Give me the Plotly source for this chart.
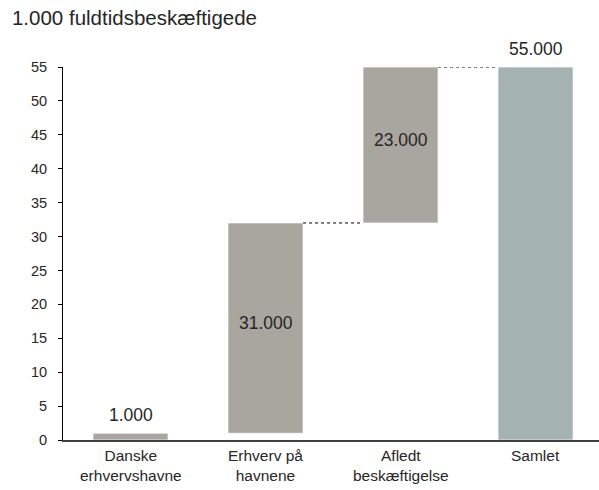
import plotly.graph_objects as go

# Employment effect of Danish commercial ports, in 1,000 full-time employees
categories = ["Danske<br>erhvervshavne", "Erhverv på<br>havnene", "Afledt<br>beskæftigelse", "Samlet"]
values = [1, 31, 23, 55]
is_total = [False, False, False, True]
y_ticks = [0, 5, 10, 15, 20, 25, 30, 35, 40, 45, 50, 55]
connect_after = [1, 2]  # steps followed by a dotted connector
label_inside = [False, True, True, False]

STEP_COLOR = "#a9a59f"
TOTAL_COLOR = "#a4b2b1"
TEXT_COLOR = "#262626"
BAR_WIDTH = 0.556
FONT = "Liberation Sans, Arial, sans-serif"

# Floating bases for the waterfall steps
bases, tops = [], []
running = 0
for v, tot in zip(values, is_total):
    if tot:
        bases.append(0)
        tops.append(v)
    else:
        bases.append(running)
        running += v
        tops.append(running)

labels = [f"{v * 1000:,}".replace(",", ".") for v in values]
x = list(range(len(categories)))

fig = go.Figure()
fig.add_trace(go.Bar(
    x=x, y=values, base=bases, width=BAR_WIDTH,
    marker=dict(color=[TOTAL_COLOR if t else STEP_COLOR for t in is_total],
                line=dict(color="rgba(255,255,255,0.7)", width=1)),
    hoverinfo="skip",
))

for i in connect_after:
    fig.add_trace(go.Scatter(
        x=[i + BAR_WIDTH / 2, i + 1 - BAR_WIDTH / 2], y=[tops[i], tops[i]],
        mode="lines", line=dict(color="#000000", width=1, dash="dot"),
        hoverinfo="skip", cliponaxis=False,
    ))

annotations = []
# Value labels: centred in floating steps, above the ends
for i, (lab, b, t, inside) in enumerate(zip(labels, bases, tops, label_inside)):
    if inside:
        annotations.append(dict(x=i, y=(b + t) / 2, xref="x", yref="y", text=lab,
                                showarrow=False, yanchor="middle", yshift=5,
                                font=dict(family=FONT, size=17.5, color=TEXT_COLOR)))
    else:
        annotations.append(dict(x=i, y=t, xref="x", yref="y", text=lab,
                                showarrow=False, yanchor="bottom", yshift=6,
                                font=dict(family=FONT, size=17.5, color=TEXT_COLOR)))

# Category labels below the axis
for i, cat in enumerate(categories):
    annotations.append(dict(x=i, y=0, xref="x", yref="paper", text=cat,
                            showarrow=False, yanchor="top", yshift=-5,
                            font=dict(family=FONT, size=15.5, color=TEXT_COLOR)))

fig.update_layout(
    width=599, height=490,
    margin=dict(l=63, r=0, t=67, b=50),
    paper_bgcolor="white", plot_bgcolor="white",
    showlegend=False,
    font=dict(family=FONT, size=14, color=TEXT_COLOR),
    title=dict(text="1.000 fuldtidsbeskæftigede", x=0.02, xanchor="left",
               y=0.963, yanchor="middle",
               font=dict(family=FONT, size=20.5, color=TEXT_COLOR)),
    annotations=annotations,
)
fig.update_xaxes(
    range=[-0.5, 3.47], tickvals=x, ticktext=["" for _ in x],
    showline=True, linecolor="#404040", linewidth=1.5,
    showgrid=False, zeroline=False, ticks="",
)
fig.update_yaxes(
    range=[0, 55], tickvals=y_ticks,
    showline=True, linecolor="#000000", linewidth=1,
    showgrid=False, zeroline=False,
    ticks="outside", ticklen=4, tickcolor="#000000",
    ticklabelstandoff=8,
    tickfont=dict(family=FONT, size=14.5, color=TEXT_COLOR),
)

fig.write_html("out.html")
